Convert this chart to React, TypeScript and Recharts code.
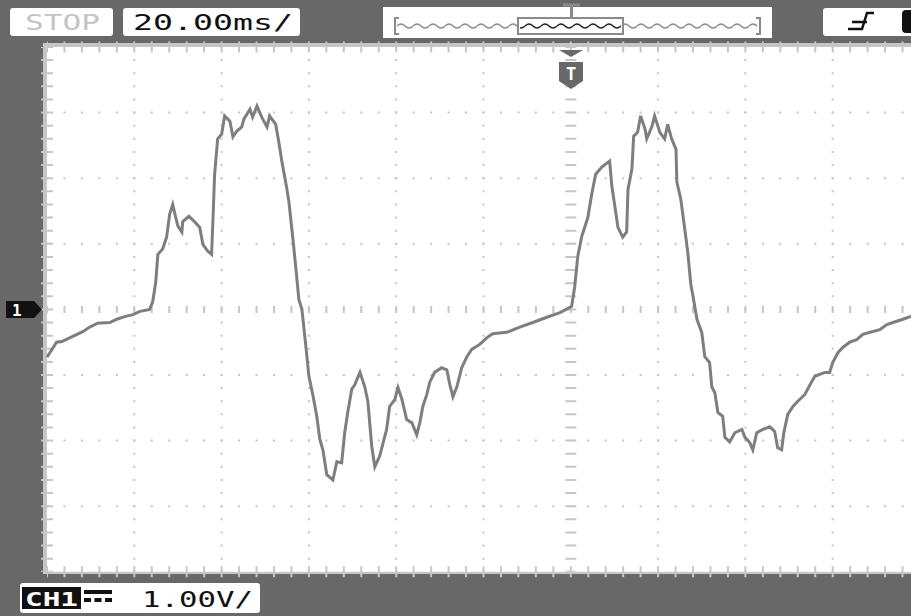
import React from 'react';
import { LineChart, Line, XAxis, YAxis, CartesianGrid, ReferenceLine } from 'recharts';

// trace samples: time in ms (0 = trigger), level in volts
const times = [
  -120.0, -117.8, -116.6, -114.1, -111.8, -110.2, -108.4, -105.6, -104.0, -102.2,
  -100.3, -98.7, -96.5, -95.8, -95.1, -94.6, -93.5, -92.6, -91.9, -91.2,
  -90.5, -90.0, -89.1, -88.9, -87.5, -86.1, -85.0, -84.3, -83.2, -82.3,
  -82.0, -81.6, -80.9, -80.0, -79.3, -78.1, -77.4, -76.5, -75.4, -74.9,
  -73.5, -72.9, -71.9, -70.8, -69.6, -69.0, -67.6, -66.9, -66.2, -65.1,
  -64.6, -63.7, -62.8, -62.3, -61.6, -60.7, -60.0, -59.1, -58.2, -57.5,
  -56.8, -55.9, -54.5, -53.6, -52.5, -51.8, -51.1, -50.2, -49.5, -48.3,
  -47.2, -46.5, -45.6, -44.9, -43.8, -43.1, -42.2, -41.5, -40.3, -39.6,
  -38.7, -37.6, -36.4, -35.3, -34.6, -33.9, -33.0, -32.3, -31.2, -29.6,
  -28.4, -27.7, -27.0, -26.1, -25.0, -23.8, -22.7, -20.8, -19.2, -17.9,
  -14.7, -11.7, -8.7, -5.5, -2.5, -0.2, 0.2, 0.9, 1.6, 2.5,
  3.9, 4.8, 5.7, 7.1, 8.9, 9.4, 10.1, 10.8, 11.9, 12.8,
  13.1, 14.0, 14.4, 15.3, 16.0, 17.0, 17.4, 18.6, 19.2, 20.4,
  21.5, 22.2, 23.1, 24.1, 24.3, 25.2, 25.9, 26.8, 27.5, 28.0,
  28.9, 30.0, 30.7, 31.8, 32.3, 33.0, 33.7, 34.8, 35.3, 36.4,
  37.6, 39.2, 39.9, 41.0, 41.7, 42.6, 44.0, 45.6, 46.7, 47.4,
  48.3, 48.8, 49.7, 50.9, 52.0, 53.6, 54.8, 55.9, 58.2, 59.3,
  60.0, 61.2, 62.3, 63.9, 65.5, 66.9, 69.0, 70.8, 72.4, 73.8,
  76.1, 77.7, 80.0,
];

const volts = [
  -0.73, -0.50, -0.49, -0.41, -0.34, -0.27, -0.21, -0.20, -0.15, -0.11,
  -0.08, -0.03, 0.00, 0.11, 0.41, 0.84, 0.92, 1.10, 1.45, 1.60,
  1.40, 1.27, 1.18, 1.34, 1.42, 1.33, 1.25, 0.99, 0.89, 0.84,
  1.33, 2.06, 2.60, 2.67, 2.95, 2.87, 2.63, 2.72, 2.78, 2.90,
  3.05, 2.93, 3.10, 2.93, 2.78, 2.95, 2.82, 2.55, 2.26, 1.86,
  1.65, 1.10, 0.50, 0.15, 0.00, -0.56, -1.02, -1.30, -1.63, -1.98,
  -2.14, -2.52, -2.60, -2.32, -2.34, -1.88, -1.57, -1.22, -1.15, -0.96,
  -1.18, -1.40, -2.09, -2.40, -2.24, -2.06, -1.83, -1.48, -1.37, -1.19,
  -1.37, -1.68, -1.73, -1.91, -1.73, -1.48, -1.30, -1.11, -0.96, -0.89,
  -0.92, -1.15, -1.33, -1.18, -0.89, -0.72, -0.61, -0.53, -0.43, -0.37,
  -0.35, -0.27, -0.20, -0.12, -0.05, 0.03, 0.05, 0.35, 0.81, 1.11,
  1.40, 1.76, 2.06, 2.17, 2.26, 1.88, 1.57, 1.25, 1.10, 1.18,
  1.83, 2.14, 2.64, 2.70, 2.95, 2.75, 2.60, 2.79, 2.95, 2.70,
  2.60, 2.82, 2.60, 2.44, 1.94, 1.68, 1.33, 0.87, 0.38, 0.20,
  -0.15, -0.35, -0.72, -0.81, -1.18, -1.27, -1.57, -1.63, -1.95, -2.02,
  -1.88, -1.83, -1.95, -2.03, -2.14, -1.88, -1.83, -1.79, -1.86, -2.11,
  -2.14, -1.88, -1.60, -1.48, -1.40, -1.30, -1.15, -1.02, -0.96, -0.96,
  -0.81, -0.66, -0.58, -0.50, -0.46, -0.38, -0.34, -0.31, -0.23, -0.20,
  -0.15, -0.11, -0.08,
];

// graticule: 12 x 20 ms horizontally, 8 x 1 V vertically
const timeDivs = [-100, -80, -60, -40, -20, 20, 40, 60, 80, 100];
const voltDivs = [-3, -2, -1, 1, 2, 3];

const timebaseLabel = '20.00ms/';
const voltsLabel = '1.00V/';
const runLabel = 'STOP';

const data = times.map((t, i) => ({ t, v: volts[i] }));

const GRID = '#c6c6c6';
const BG = '#686868';
const TRACE = '#7e7e7e';
const MONO = '"DejaVu Sans Mono", monospace';

const App: React.FC = () => {
  return (
    <div style={{ position: 'absolute', left: 0, top: 0, width: 911, height: 616, overflow: 'hidden', background: BG }}>
      {/* light frame around the graticule */}
      <div style={{ position: 'absolute', left: 43, top: 43, width: 900, height: 531, background: GRID }} />

      <div style={{ position: 'absolute', left: 0, top: 0 }}>
        <LineChart width={1100} height={616} data={data} margin={{ top: 47, right: 5.4, bottom: 44.2, left: 47 }}>
          <CartesianGrid horizontal={false} vertical={false} fill="#ffffff" />
          <XAxis dataKey="t" type="number" domain={[-120, 120]} hide />
          <YAxis type="number" domain={[-4, 4]} hide />

          {timeDivs.map((t) => (
            <ReferenceLine key={'x' + t} x={t} stroke={GRID} strokeWidth={2} strokeDasharray="2 11.12" strokeDashoffset={1} />
          ))}
          {voltDivs.map((v) => (
            <ReferenceLine key={'y' + v} y={v} stroke={GRID} strokeWidth={2} strokeDasharray="2 15.46" strokeDashoffset={1} />
          ))}

          {/* centre axes with minor ticks */}
          <ReferenceLine y={0} stroke={GRID} strokeWidth={7} strokeDasharray="2 15.46" strokeDashoffset={1} />
          <ReferenceLine x={0} stroke={GRID} strokeWidth={11} strokeDasharray="2 11.12" strokeDashoffset={1} />

          {/* ticks along the border */}
          <ReferenceLine y={4} stroke={GRID} strokeWidth={11} strokeDasharray="2 15.46" strokeDashoffset={1} />
          <ReferenceLine y={-4} stroke={GRID} strokeWidth={11} strokeDasharray="2 15.46" strokeDashoffset={1} />
          <ReferenceLine x={-120} stroke={GRID} strokeWidth={12} strokeDasharray="2 11.12" strokeDashoffset={1} />

          <Line
            type="linear"
            dataKey="v"
            stroke={TRACE}
            strokeWidth={3}
            dot={false}
            activeDot={false}
            isAnimationActive={false}
          />
        </LineChart>
      </div>

      {/* on-screen annotations */}
      <svg width={911} height={616} style={{ position: 'absolute', left: 0, top: 0, pointerEvents: 'none' }}>
        <defs>
          <pattern id="wave" width={16} height={8} patternUnits="userSpaceOnUse" x={397} y={22}>
            <path d="M0,4 Q4,0 8,4 T16,4" fill="none" stroke="#8a8a8a" strokeWidth={1.5} />
          </pattern>
          <pattern id="waveDark" width={16} height={8} patternUnits="userSpaceOnUse" x={397} y={22}>
            <path d="M0,4 Q4,0 8,4 T16,4" fill="none" stroke="#222" strokeWidth={1.5} />
          </pattern>
        </defs>

        {/* top status bar */}
        <rect x={10} y={8} width={103} height={28} rx={3} fill="#fff" />
        <text x={25} y={30} fontFamily={MONO} fontSize={22} fill="#c4c4c4" textLength={75} lengthAdjust="spacingAndGlyphs">
          {runLabel}
        </text>
        <rect x={123} y={8} width={177} height={28} rx={3} fill="#fff" />
        <text x={133} y={30} fontFamily={MONO} fontSize={22} fill="#111" textLength={160} lengthAdjust="spacingAndGlyphs">
          {timebaseLabel}
        </text>

        <rect x={383} y={7} width={389} height={31} fill="#fff" />
        <rect x={397} y={22} width={360} height={8} fill="url(#wave)" />
        <rect x={518} y={18} width={105} height={16} fill="#fff" stroke="#8a8a8a" strokeWidth={2} />
        <rect x={520} y={22} width={101} height={8} fill="url(#waveDark)" />
        <path d="M399,18 H395 V34 H399" fill="none" stroke="#8a8a8a" strokeWidth={2} />
        <path d="M756,18 H760 V34 H756" fill="none" stroke="#8a8a8a" strokeWidth={2} />
        <path d="M563,5 H580 M571.5,5 V18" stroke="#8a8a8a" strokeWidth={3} />

        <rect x={823} y={8} width={100} height={28} rx={3} fill="#fff" />
        <path d="M848,29 H862 L867,13 H874 M852,22 H867" fill="none" stroke="#111" strokeWidth={2.5} />
        <rect x={902} y={10} width={16} height={23} rx={4} fill="#111" />

        {/* trigger position marker */}
        <path d="M559,50 H583 L571,57 Z" fill={BG} />
        <path d="M559,62 H583 V81 L571,89 L559,81 Z" fill={BG} />
        <text x={571} y={80} textAnchor="middle" fontFamily={MONO} fontWeight="bold" fontSize={17} fill="#fff">
          T
        </text>

        {/* channel 1 ground marker */}
        <path d="M6,301 H34 L42,309.5 L34,318 H6 Z" fill="#111" />
        <text x={12} y={316} fontFamily={MONO} fontWeight="bold" fontSize={16} fill="#fff">
          1
        </text>

        {/* channel scale */}
        <rect x={20} y={583} width={240} height={30} rx={3} fill="#fff" />
        <rect x={22} y={587} width={59} height={22} fill="#111" />
        <text x={25} y={606} fontFamily={MONO} fontWeight="bold" fontSize={20} fill="#fff" textLength={53} lengthAdjust="spacingAndGlyphs">
          CH1
        </text>
        <rect x={84} y={590} width={28} height={4} fill="#111" />
        <rect x={84} y={598} width={7} height={4} fill="#111" />
        <rect x={94.5} y={598} width={7} height={4} fill="#111" />
        <rect x={105} y={598} width={7} height={4} fill="#111" />
        <text x={142} y={607} fontFamily={MONO} fontSize={22} fill="#111" textLength={111} lengthAdjust="spacingAndGlyphs">
          {voltsLabel}
        </text>
      </svg>
    </div>
  );
};

export default App;
